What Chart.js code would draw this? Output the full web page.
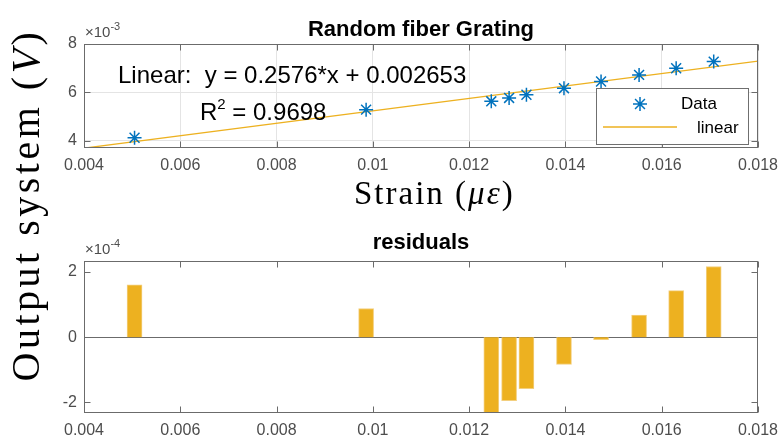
<!DOCTYPE html>
<html>
<head>
<meta charset="utf-8">
<script src="https://cdn.jsdelivr.net/npm/chart.js@4.4.1/dist/chart.umd.min.js"></script>
<style>
  html, body { margin: 0; padding: 0; background: #fff; }
  #wrap { position: relative; width: 779px; height: 440px; }
  #wrap canvas { position: absolute; left: 0; top: 0; }
</style>
</head>
<body>
<div id="wrap">
  <canvas id="fit" width="779" height="440"></canvas>
  <canvas id="resid" width="779" height="440"></canvas>
</div>
<script>
// data (strain in με, output in V)
var strain = [0.00505, 0.00986, 0.01246, 0.01283, 0.01319, 0.01397, 0.01474, 0.01553, 0.0163, 0.01708];
var output = [0.004115, 0.00528, 0.005625, 0.005765, 0.005895, 0.00617, 0.006445, 0.00672, 0.006995, 0.00727];
var residuals = [0.000161, 0.000088, -0.00024, -0.000195, -0.000158, -0.000084, -0.000008, 0.000068, 0.000143, 0.000217];
// end points of the fitted line y = 0.2576*x + 0.002653
var fitX = [0.004, 0.018];
var fitY = [0.0036834, 0.0072898];

var xTicks = [0.004, 0.006, 0.008, 0.01, 0.012, 0.014, 0.016, 0.018];
var yTicksTop = [0.004, 0.006, 0.008];
var yTicksRes = [-0.0002, 0, 0.0002];

var sans = '"Liberation Sans", Arial, sans-serif';
var serif = '"Liberation Serif", "Times New Roman", serif';
var axisColor = '#6b6b6b';
var tickColor = '#4d4d4d';
var blue = '#0072BD';
var gold = '#EDB120';
var tickLen = 6;

function fixTicks(list) {
  return function (scale) {
    scale.ticks = list.map(function (v) { return { value: v }; });
  };
}

// draws a row of text pieces with different fonts, returns end x
function drawRuns(ctx, runs, x, y) {
  runs.forEach(function (r) {
    ctx.font = r.font;
    ctx.fillText(r.t, x, y + (r.dy || 0));
    x += ctx.measureText(r.t).width;
  });
  return x;
}
function runsWidth(ctx, runs) {
  var w = 0;
  runs.forEach(function (r) { ctx.font = r.font; w += ctx.measureText(r.t).width; });
  return w;
}

// box round the axes with inward ticks, like matlab
function framePlugin(yTicks, baseline) {
  return {
    id: 'frame',
    beforeDatasetsDraw: function (chart) {
      if (!baseline) return;
      var a = chart.chartArea, ctx = chart.ctx;
      var y = Math.round(chart.scales.y.getPixelForValue(0)) + 0.5;
      ctx.save();
      ctx.strokeStyle = axisColor;
      ctx.lineWidth = 1;
      ctx.beginPath();
      ctx.moveTo(a.left, y);
      ctx.lineTo(a.right, y);
      ctx.stroke();
      ctx.restore();
    },
    afterDatasetsDraw: function (chart) {
      var a = chart.chartArea, ctx = chart.ctx;
      var sx = chart.scales.x, sy = chart.scales.y;
      var L = Math.round(a.left) + 0.5, R = Math.round(a.right) - 0.5;
      var T = Math.round(a.top) + 0.5, B = Math.round(a.bottom) - 0.5;
      ctx.save();
      ctx.strokeStyle = axisColor;
      ctx.lineWidth = 1;
      ctx.strokeRect(L, T, R - L, B - T);
      ctx.beginPath();
      xTicks.forEach(function (v) {
        var x = Math.round(sx.getPixelForValue(v)) + 0.5;
        ctx.moveTo(x, B); ctx.lineTo(x, B - tickLen);
        ctx.moveTo(x, T); ctx.lineTo(x, T + tickLen);
      });
      yTicks.forEach(function (v) {
        var y = Math.round(sy.getPixelForValue(v)) + 0.5;
        ctx.moveTo(L, y); ctx.lineTo(L + tickLen, y);
        ctx.moveTo(R, y); ctx.lineTo(R - tickLen, y);
      });
      ctx.stroke();
      ctx.restore();
    }
  };
}

var topText = {
  id: 'topText',
  afterDraw: function (chart) {
    var ctx = chart.ctx;
    ctx.save();
    ctx.fillStyle = '#000';
    ctx.textBaseline = 'alphabetic';

    // title
    ctx.textAlign = 'center';
    ctx.font = 'bold 22px ' + sans;
    ctx.fillText('Random fiber Grating', 421, 36);

    ctx.textAlign = 'left';
    // exponent
    ctx.fillStyle = tickColor;
    drawRuns(ctx, [
      { t: '\u00d710', font: '15px ' + sans },
      { t: '-3', font: '11px ' + sans, dy: -7 }
    ], 85, 37);

    // fit annotation
    ctx.fillStyle = '#000';
    ctx.font = '24px ' + sans;
    ctx.fillText('Linear:  y = 0.2576*x + 0.002653', 118, 83);
    drawRuns(ctx, [
      { t: 'R', font: '24px ' + sans },
      { t: '2', font: '15px ' + sans, dy: -11 },
      { t: ' = 0.9698', font: '24px ' + sans }
    ], 200, 120);

    // legend
    ctx.fillStyle = '#fff';
    ctx.strokeStyle = '#6f6f6f';
    ctx.lineWidth = 1;
    ctx.fillRect(596.5, 88.5, 152, 56);
    ctx.strokeRect(596.5, 88.5, 152, 56);
    ctx.strokeStyle = blue;
    ctx.lineWidth = 1.5;
    Chart.helpers.drawPoint(ctx, { pointStyle: 'star', radius: 7, borderWidth: 1.5, rotation: 0 }, 640, 104);
    ctx.strokeStyle = gold;
    ctx.lineWidth = 1.5;
    ctx.beginPath();
    ctx.moveTo(603, 127);
    ctx.lineTo(677, 127);
    ctx.stroke();
    ctx.fillStyle = '#000';
    ctx.font = '17px ' + sans;
    ctx.fillText('Data', 681, 109);
    ctx.fillText('linear', 697, 133);

    // x label
    ctx.letterSpacing = '2px';
    drawRuns(ctx, [
      { t: 'Strain (', font: '33px ' + serif },
      { t: '\u03bc\u03b5', font: 'italic 33px ' + serif },
      { t: ')', font: '33px ' + serif }
    ], 354, 204);

    // y label, shared by both axes
    var yl = [
      { t: 'Output system (', font: '40px ' + serif },
      { t: 'V', font: 'italic 40px ' + serif },
      { t: ')', font: '40px ' + serif }
    ];
    ctx.letterSpacing = '3.5px';
    var w = runsWidth(ctx, yl);
    ctx.translate(39, 205 + w / 2);
    ctx.rotate(-Math.PI / 2);
    drawRuns(ctx, yl, 0, 0);
    ctx.restore();
  }
};

var bottomText = {
  id: 'bottomText',
  afterDraw: function (chart) {
    var ctx = chart.ctx;
    ctx.save();
    ctx.textBaseline = 'alphabetic';
    ctx.textAlign = 'center';
    ctx.fillStyle = '#000';
    ctx.font = 'bold 22px ' + sans;
    ctx.fillText('residuals', 421, 249);
    ctx.textAlign = 'left';
    ctx.fillStyle = tickColor;
    drawRuns(ctx, [
      { t: '\u00d710', font: '15px ' + sans },
      { t: '-4', font: '11px ' + sans, dy: -7 }
    ], 85, 254);
    ctx.restore();
  }
};

function xScale(pad, height) {
  return {
    type: 'linear',
    min: 0.004,
    max: 0.018,
    offset: false,
    afterBuildTicks: fixTicks(xTicks),
    afterFit: function (scale) {
      scale.height = height;
      scale.paddingLeft = 0;
      scale.paddingRight = 0;
    },
    border: { display: false },
    ticks: {
      padding: pad,
      maxRotation: 0,
      autoSkip: false,
      color: tickColor,
      font: { family: sans, size: 16 },
      callback: function (v) { return String(+Number(v).toFixed(3)); }
    }
  };
}

new Chart(document.getElementById('fit').getContext('2d'), {
  type: 'scatter',
  data: {
    datasets: [
      {
        label: 'Data',
        data: strain.map(function (x, i) { return { x: x, y: output[i] }; }),
        pointStyle: 'star',
        pointRadius: 7,
        borderColor: blue,
        backgroundColor: blue,
        borderWidth: 1.5,
        order: 1
      },
      {
        label: 'linear',
        data: fitX.map(function (x, i) { return { x: x, y: fitY[i] }; }),
        showLine: true,
        pointRadius: 0,
        borderColor: gold,
        borderWidth: 1.3,
        order: 2
      }
    ]
  },
  options: {
    responsive: false,
    animation: false,
    devicePixelRatio: 1,
    layout: { padding: { left: 0, right: 21, top: 44, bottom: 0 } },
    plugins: { legend: { display: false }, tooltip: { enabled: false } },
    scales: {
      x: Object.assign(xScale(8, 292), {
        grid: { color: '#e4e4e4', drawTicks: false }
      }),
      y: {
        min: 0.00369,
        max: 0.008,
        afterBuildTicks: fixTicks(yTicksTop),
        afterFit: function (scale) { scale.width = 84; },
        border: { display: false },
        grid: { color: '#e4e4e4', drawTicks: false },
        ticks: {
          padding: 7,
          color: tickColor,
          font: { family: sans, size: 16 },
          callback: function (v) { return String(Math.round(v * 1000)); }
        }
      }
    }
  },
  plugins: [framePlugin(yTicksTop, false), topText]
});

new Chart(document.getElementById('resid').getContext('2d'), {
  type: 'bar',
  data: {
    datasets: [{
      label: 'residuals',
      data: strain.map(function (x, i) { return { x: x, y: residuals[i] }; }),
      backgroundColor: gold,
      borderColor: '#f3cf7e',
      borderWidth: 1,
      barThickness: 15
    }]
  },
  options: {
    responsive: false,
    animation: false,
    devicePixelRatio: 1,
    layout: { padding: { left: 0, right: 21, top: 261, bottom: 0 } },
    plugins: { legend: { display: false }, tooltip: { enabled: false } },
    scales: {
      x: Object.assign(xScale(8, 27), { grid: { display: false, drawTicks: false } }),
      y: {
        min: -0.000233,
        max: 0.000234,
        afterBuildTicks: fixTicks(yTicksRes),
        afterFit: function (scale) { scale.width = 84; },
        border: { display: false },
        grid: { display: false, drawTicks: false },
        ticks: {
          padding: 7,
          color: tickColor,
          font: { family: sans, size: 16 },
          callback: function (v) { return String(Math.round(v * 10000)); }
        }
      }
    }
  },
  plugins: [framePlugin(yTicksRes, true), bottomText]
});
</script>
</body>
</html>
